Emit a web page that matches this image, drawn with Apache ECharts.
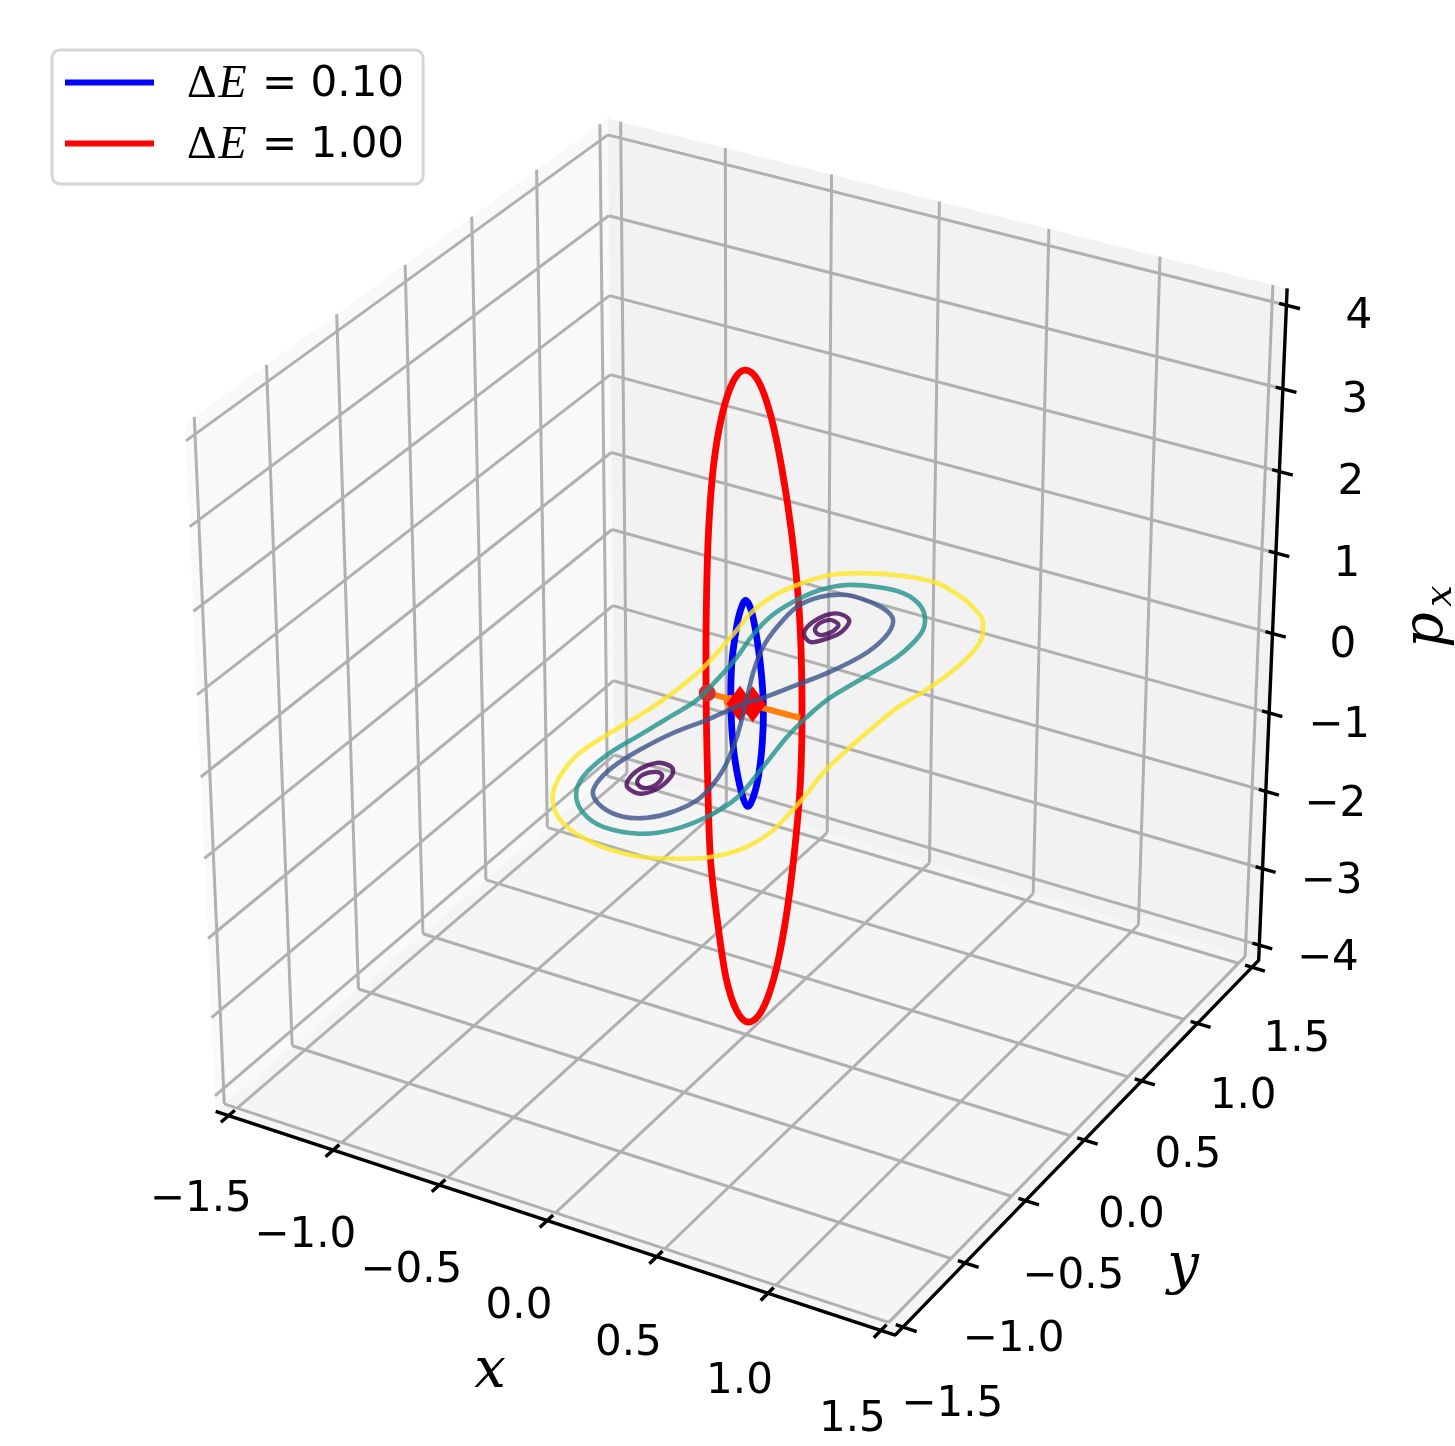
<!DOCTYPE html>
<html>
<head>
<meta charset="utf-8">
<style>
html, body { margin: 0; padding: 0; background: #fff; }
#chart { position: absolute; left: 0; top: 0; width: 1455px; height: 1446px; }
</style>
<script src="https://cdn.jsdelivr.net/npm/echarts@6/dist/echarts.min.js"></script>
</head>
<body>
<div id="chart"></div>
<script>
// axis ticks
var xTicks = [-1.5, -1.0, -0.5, 0.0, 0.5, 1.0, 1.5];
var yTicks = [-1.5, -1.0, -0.5, 0.0, 0.5, 1.0, 1.5];
var zTicks = [-4, -3, -2, -1, 0, 1, 2, 3, 4];
var xTickLabels = ['\u22121.5', '\u22121.0', '\u22120.5', '0.0', '0.5', '1.0', '1.5'];
var yTickLabels = ['\u22121.5', '\u22121.0', '\u22120.5', '0.0', '0.5', '1.0', '1.5'];
var zTickLabels = ['\u22124', '\u22123', '\u22122', '\u22121', '0', '1', '2', '3', '4'];
var legendNames = ['\u0394E = 0.10', '\u0394E = 1.00'];

// periodic orbits, [x, px] at y = 0
var orbitBlue = [[-0.001, 1.270], [0.026, 1.150], [0.053, 0.791], [0.072, 0.388], [0.080, -0.013], [0.075, -0.425], [0.057, -0.863], [0.031, -1.155], [0.006, -1.270], [-0.020, -1.126], [-0.051, -0.735], [-0.066, -0.335], [-0.070, 0.082], [-0.064, 0.493], [-0.043, 0.913], [-0.025, 1.134]];
var orbitRed = [[-0.004, 4.018], [0.054, 3.935], [0.109, 3.583], [0.159, 3.010], [0.206, 2.239], [0.242, 1.318], [0.256, 0.298], [0.251, -0.753], [0.221, -1.762], [0.180, -2.654], [0.131, -3.356], [0.073, -3.833], [0.011, -4.029], [-0.044, -3.929], [-0.094, -3.544], [-0.131, -2.909], [-0.166, -2.075], [-0.178, -1.092], [-0.184, -0.043], [-0.182, 0.996], [-0.171, 1.959], [-0.147, 2.786], [-0.107, 3.427], [-0.057, 3.852]];

// energy contours, [x, y] on the plane px = contourPlane
var contourPlane = 0.02;
var contourYellow = [[0.530, 1.004], [0.488, 1.074], [0.404, 1.142], [0.341, 1.182], [0.188, 1.240], [0.039, 1.223], [-0.115, 1.162], [-0.225, 1.079], [-0.300, 0.939], [-0.342, 0.788], [-0.346, 0.632], [-0.326, 0.491], [-0.301, 0.287], [-0.288, 0.154], [-0.288, -0.005], [-0.296, -0.148], [-0.317, -0.316], [-0.347, -0.497], [-0.368, -0.671], [-0.349, -0.830], [-0.299, -0.987], [-0.217, -1.105], [-0.118, -1.180], [-0.022, -1.218], [0.100, -1.242], [0.241, -1.230], [0.358, -1.179], [0.467, -1.107], [0.547, -0.993], [0.584, -0.826], [0.569, -0.565], [0.538, -0.327], [0.532, -0.125], [0.534, 0.057], [0.542, 0.263], [0.571, 0.426], [0.591, 0.614], [0.589, 0.810], [0.566, 0.930]];
var contourTeal = [[0.295, 0.945], [0.217, 1.043], [0.109, 1.097], [-0.008, 1.088], [-0.123, 1.041], [-0.198, 0.949], [-0.244, 0.806], [-0.263, 0.651], [-0.248, 0.479], [-0.214, 0.299], [-0.191, 0.098], [-0.179, -0.080], [-0.201, -0.231], [-0.234, -0.432], [-0.267, -0.631], [-0.261, -0.824], [-0.213, -0.955], [-0.119, -1.058], [0.003, -1.110], [0.153, -1.083], [0.248, -0.993], [0.313, -0.844], [0.341, -0.661], [0.311, -0.404], [0.277, -0.156], [0.267, 0.021], [0.272, 0.198], [0.308, 0.404], [0.344, 0.622], [0.337, 0.825]];
var separatrixRight = [[0, 0], [-0.094, 0.220], [-0.164, 0.422], [-0.197, 0.593], [-0.210, 0.779], [-0.169, 0.898], [-0.082, 0.968], [0.029, 0.964], [0.133, 0.927], [0.191, 0.865], [0.223, 0.741], [0.218, 0.568], [0.169, 0.381], [0.106, 0.223], [0.041, 0.065], [0, 0]];
var separatrixLeft = [[0, 0], [-0.065, -0.197], [-0.129, -0.354], [-0.175, -0.533], [-0.199, -0.699], [-0.190, -0.836], [-0.156, -0.922], [-0.071, -0.987], [0.031, -1.006], [0.116, -0.966], [0.179, -0.877], [0.217, -0.734], [0.187, -0.504], [0.105, -0.254], [0, 0]];
var wellLeftOuter = [[0.017, -0.601], [-0.020, -0.578], [-0.065, -0.586], [-0.099, -0.659], [-0.096, -0.755], [-0.066, -0.808], [-0.001, -0.823], [0.037, -0.758], [0.038, -0.660]];
var wellLeftInner = [[-0.001, -0.656], [-0.036, -0.650], [-0.066, -0.692], [-0.058, -0.751], [-0.018, -0.780], [0.012, -0.755], [0.017, -0.708]];
var wellRightOuter = [[0.036, 0.776], [-0.014, 0.814], [-0.064, 0.794], [-0.092, 0.702], [-0.078, 0.605], [-0.020, 0.553], [0.017, 0.594], [0.049, 0.678]];
var wellRightInner = [[0.005, 0.739], [-0.040, 0.752], [-0.062, 0.709], [-0.052, 0.649], [-0.014, 0.623], [0.013, 0.658], [0.017, 0.708]];

// the x segment through the saddle and its points, [x, y]
var saddleSegment = [[-0.172, -0.012], [0.248, 0]];
var segmentStart = [[-0.172, -0.012]];
var segmentDot = [[-0.058, -0.026]];
var equilibria = [[-0.015, -0.022], [0.030, 0.001]];

var xLim = 1.5625, yLim = 1.5625, zLim = 4.2;

// same camera as mplot3d: elev 30, azim -60, dist 10
function project(x, y, z) {
    var qx = x / xLim * 0.55, qy = y / yLim * 0.55, qz = z / zLim * 0.55;
    var xv = 0.866025 * qx + 0.5 * qy;
    var yv = -0.25 * qx + 0.433013 * qy + 0.866025 * qz;
    var k = 1 / (10 - (0.433013 * qx - 0.75 * qy + 0.5 * qz));
    return [746 + 7130 * xv * k, 704 - 7130 * yv * k];
}

function onPlane(p) { return project(p[0], p[1], contourPlane); }
function onOrbit(p) { return project(p[0], 0, p[1]); }

// several 3d polylines into one data list, with gaps between them
function polylines(list) {
    var out = [];
    list.forEach(function (segment) {
        segment.forEach(function (p) { out.push(project(p[0], p[1], p[2])); });
        out.push(['-', '-']);
    });
    return out;
}

function lineSeries(name, data, color, width) {
    return {
        name: name, type: 'line', data: data, showSymbol: false, symbol: 'none',
        silent: true, animation: false, connectNulls: false, clip: false,
        lineStyle: {color: color, width: width}
    };
}

// line's own smoothing flattens the loops, so the curve is a bezier path through the same points
function curvePath(c, closed) {
    var n = c.length, d = 'M' + c[0][0] + ' ' + c[0][1];
    function at(i) {
        if (closed) { return c[(i + n) % n]; }
        return c[Math.max(0, Math.min(n - 1, i))];
    }
    for (var i = 0; i < (closed ? n : n - 1); i++) {
        var p0 = at(i - 1), p1 = at(i), p2 = at(i + 1), p3 = at(i + 2);
        d += 'C' + (p1[0] + (p2[0] - p0[0]) / 6) + ' ' + (p1[1] + (p2[1] - p0[1]) / 6) + ' ' +
            (p2[0] - (p3[0] - p1[0]) / 6) + ' ' + (p2[1] - (p3[1] - p1[1]) / 6) + ' ' + p2[0] + ' ' + p2[1];
    }
    return d + (closed ? 'Z' : '');
}

function curveSeries(name, points, closed, color, width, opacity) {
    return {
        name: name, type: 'custom', silent: true, animation: false, clip: false, data: points,
        encode: {x: 0, y: 1},
        itemStyle: {color: color},
        renderItem: function (params, api) {
            if (params.dataIndex !== 0) { return null; }
            var coords = points.map(function (p) { return api.coord(p); });
            return {
                type: 'path',
                shape: {pathData: curvePath(coords, closed)},
                style: {fill: 'none', stroke: color, lineWidth: width, opacity: opacity, lineJoin: 'round'}
            };
        }
    };
}

function paneSeries(corners, color) {
    return {
        type: 'custom', silent: true, animation: false, clip: false, data: [0],
        renderItem: function (params, api) {
            return {
                type: 'polygon',
                shape: {points: corners.map(function (c) { return api.coord(project(c[0], c[1], c[2])); })},
                style: {fill: color}
            };
        }
    };
}

function labelSeries(items, fontSize, family, style, rotate) {
    return {
        type: 'scatter', silent: true, animation: false, symbolSize: 1, clip: false,
        itemStyle: {color: 'rgba(0,0,0,0)', opacity: 1},
        label: {
            show: true, position: 'inside', formatter: '{b}', color: '#000', opacity: 1, fontSize: fontSize,
            fontFamily: family, fontStyle: style || 'normal', rotate: rotate || 0
        },
        data: items
    };
}

function tickLabels(ticks, names, at) {
    return ticks.map(function (t, i) {
        return {name: names[i], value: at(t)};
    });
}

function pointSeries(pts, symbol, size, color) {
    return {
        type: 'scatter', silent: true, animation: false, symbol: symbol, symbolSize: size, clip: false,
        itemStyle: {color: color, opacity: 1},
        data: pts.map(onPlane)
    };
}

var gridLines = [], tickLines = [];
yTicks.forEach(function (t) {
    gridLines.push([[-xLim, t, -zLim], [xTicks[6], t, -zLim]]);
    gridLines.push([[-xLim, t, -zLim], [-xLim, t, zLim]]);
    tickLines.push([[xLim - 0.032, t, -zLim], [xLim + 0.06, t, -zLim]]);
});
xTicks.forEach(function (t) {
    gridLines.push([[t, yTicks[0], -zLim], [t, yLim, -zLim]]);
    gridLines.push([[t, yLim, -zLim], [t, yLim, zLim]]);
    tickLines.push([[t, -yLim + 0.045, -zLim], [t, -yLim - 0.056, -zLim]]);
});
zTicks.forEach(function (t) {
    gridLines.push([[-xLim, -yLim, t], [-xLim, yLim, t]]);
    gridLines.push([[-xLim, yLim, t], [xLim, yLim, t]]);
    tickLines.push([[xLim - 0.032, yLim, t], [xLim + 0.06, yLim, t]]);
});
var axisLine = [[[-xLim, -yLim, -zLim], [xLim, -yLim, -zLim], [xLim, yLim, -zLim], [xLim, yLim, zLim]]];

var series = [
    paneSeries([[-xLim, -yLim, -zLim], [-xLim, yLim, -zLim], [-xLim, yLim, zLim], [-xLim, -yLim, zLim]], '#f9f9f9'),
    paneSeries([[-xLim, yLim, -zLim], [xLim, yLim, -zLim], [xLim, yLim, zLim], [-xLim, yLim, zLim]], '#f2f2f2'),
    paneSeries([[-xLim, -yLim, -zLim], [xLim, -yLim, -zLim], [xLim, yLim, -zLim], [-xLim, yLim, -zLim]], '#f5f5f5'),
    lineSeries('grid', polylines(gridLines), '#b0b0b0', 3),
    lineSeries('axis', polylines(axisLine), '#000', 3.4),
    lineSeries('ticks', polylines(tickLines), '#000', 3.4),
    curveSeries(legendNames[1], orbitRed.map(onOrbit), true, '#ff0000', 6.8, 1),
    curveSeries(legendNames[0], orbitBlue.map(onOrbit), true, '#0000ff', 6.8, 1),
    lineSeries('segment', saddleSegment.map(onPlane), '#ff7f0e', 6),
    pointSeries(segmentDot, 'circle', 13, '#ff7f0e'),
    pointSeries(segmentStart, 'circle', 17, '#cc3030'),
    pointSeries(equilibria, 'diamond', [27, 36], '#ff0000'),
    curveSeries('well', wellLeftInner.map(onPlane), true, '#440154', 4.4, 0.8),
    curveSeries('well', wellLeftOuter.map(onPlane), true, '#440154', 4.4, 0.8),
    curveSeries('well', wellRightInner.map(onPlane), true, '#440154', 4.4, 0.8),
    curveSeries('well', wellRightOuter.map(onPlane), true, '#440154', 4.4, 0.8),
    curveSeries('separatrix', separatrixRight.map(onPlane), false, '#3b528b', 4.6, 0.8),
    curveSeries('separatrix', separatrixLeft.map(onPlane), false, '#3b528b', 4.6, 0.8),
    curveSeries('contour', contourTeal.map(onPlane), true, '#21918c', 4.6, 0.8),
    curveSeries('contour', contourYellow.map(onPlane), true, '#fde725', 4.6, 0.8),
    labelSeries(tickLabels(xTicks, xTickLabels, function (t) { return project(t, -yLim - 0.22, -zLim - 0.76); }), 42, '"DejaVu Sans"'),
    labelSeries(tickLabels(yTicks, yTickLabels, function (t) { return project(xLim + 0.22, t, -zLim - 0.78); }), 42, '"DejaVu Sans"'),
    labelSeries(tickLabels(zTicks, zTickLabels, function (t) { return project(xLim + 0.315, yLim, t + 0.08); }), 42, '"DejaVu Sans"'),
    labelSeries([{name: 'x', value: [490, 1372]}, {name: 'y', value: [1183, 1268]}], 56, '"DejaVu Serif"', 'italic'),
    labelSeries([{name: 'p', value: [1427, 630]}], 56, '"DejaVu Serif"', 'italic', 90),
    labelSeries([{name: 'x', value: [1441, 596]}], 38, '"DejaVu Serif"', 'italic', 90)
];
// later series on top, whatever their type
series.forEach(function (s, i) { s.z = i + 1; });

var chart = echarts.init(document.getElementById('chart'));
chart.setOption({
    animation: false,
    backgroundColor: '#fff',
    grid: {left: 0, right: 0, top: 0, bottom: 0},
    xAxis: {type: 'value', min: 0, max: 1455, show: false},
    yAxis: {type: 'value', min: 0, max: 1446, inverse: true, show: false},
    legend: {
        data: [
            {name: legendNames[0], icon: 'rect', itemStyle: {color: '#0000ff'}},
            {name: legendNames[1], icon: 'rect', itemStyle: {color: '#ff0000'}}
        ],
        orient: 'vertical', left: 52, top: 50, padding: [12, 19, 15, 13], z: 100,
        itemWidth: 89, itemHeight: 6, itemGap: 15, selectedMode: false,
        backgroundColor: '#fff', borderColor: '#d5d5d5', borderWidth: 3, borderRadius: 8,
        formatter: function (name) {
            return '{d|\u0394}{e|E}{n|' + name.slice(2) + '}';
        },
        textStyle: {
            color: '#000', padding: [5, 0, 0, 28],
            rich: {
                d: {fontFamily: '"Liberation Serif"', fontSize: 46, lineHeight: 46, color: '#000', padding: [0, 2, 0, 0]},
                e: {fontFamily: '"Liberation Serif"', fontStyle: 'italic', fontSize: 46, lineHeight: 46, color: '#000', padding: [0, 2, 0, 0]},
                n: {fontFamily: '"DejaVu Sans"', fontSize: 42, lineHeight: 46, color: '#000'}
            }
        }
    },
    series: series
});
</script>
</body>
</html>
